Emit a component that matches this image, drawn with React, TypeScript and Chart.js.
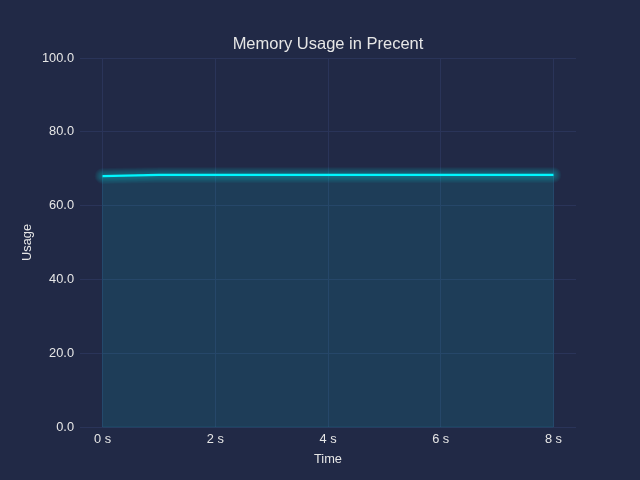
import React, { useEffect, useRef } from "react";
import { Chart, registerables } from "chart.js";

Chart.register(...registerables);

const timeSeconds = [0, 1, 2, 3, 4, 5, 6, 7, 8];
const memoryUsage = [68.0, 68.3, 68.3, 68.3, 68.3, 68.3, 68.3, 68.3, 68.3];
const xTickValues = [0, 2, 4, 6, 8];
const yTickValues = [0, 20, 40, 60, 80, 100];
const titleText = "Memory Usage in Precent";
const xAxisLabel = "Time";
const yAxisLabel = "Usage";

const BG = "#212946";
const GRID = "#2A3459";
const TEXT = "#e6e6e6";
const CYAN = "rgb(8,247,254)";
const FONT = "'Liberation Sans', Arial, sans-serif";

export default function App() {
  const ref = useRef<HTMLCanvasElement | null>(null);

  useEffect(() => {
    if (!ref.current) return;

    const bgPlugin = {
      id: "bg",
      beforeDraw(chart: any) {
        const ctx = chart.ctx;
        ctx.save();
        ctx.fillStyle = BG;
        ctx.fillRect(0, 0, chart.width, chart.height);
        ctx.restore();
      },
    };

    const glowPlugin = {
      id: "glow",
      afterDatasetsDraw(chart: any) {
        const meta = chart.getDatasetMeta(0);
        const pts = meta.data;
        if (!pts || pts.length < 2) return;
        const ctx = chart.ctx;
        const y0 = chart.scales.y.getPixelForValue(0);
        ctx.save();
        // fill polygon edge (as in matplotlib fill_between)
        ctx.beginPath();
        ctx.moveTo(pts[0].x, y0);
        for (let i = 0; i < pts.length; i++) ctx.lineTo(pts[i].x, pts[i].y);
        ctx.lineTo(pts[pts.length - 1].x, y0);
        ctx.closePath();
        ctx.lineWidth = 1;
        ctx.strokeStyle = "rgba(8,247,254,0.1)";
        ctx.stroke();
        // glow
        ctx.lineJoin = "round";
        ctx.lineCap = "round";
        for (let n = 1; n <= 10; n++) {
          ctx.beginPath();
          ctx.moveTo(pts[0].x, pts[0].y);
          for (let i = 1; i < pts.length; i++) ctx.lineTo(pts[i].x, pts[i].y);
          ctx.lineWidth = 2 + 1.4 * n;
          ctx.strokeStyle = "rgba(8,247,254,0.03)";
          ctx.stroke();
        }
        ctx.restore();
      },
    };

    const chart = new Chart(ref.current, {
      type: "line",
      data: {
        datasets: [
          {
            data: timeSeconds.map((t, i) => ({ x: t, y: memoryUsage[i] })),
            borderColor: CYAN,
            borderWidth: 2.2,
            backgroundColor: "rgba(8,247,254,0.1)",
            fill: { value: 0 },
            pointRadius: 0,
            tension: 0,
          },
        ],
      },
      options: {
        animation: false,
        responsive: false,
        layout: { padding: { left: 0, right: 64, top: 0, bottom: 0 } },
        plugins: {
          legend: { display: false },
          tooltip: { enabled: false },
          title: {
            display: true,
            fullSize: false,
            text: titleText,
            color: TEXT,
            font: { family: FONT, size: 16.5, weight: "normal", lineHeight: 1.2 },
            padding: { top: 35, bottom: 3.2 },
          },
        },
        scales: {
          x: {
            type: "linear",
            min: -0.4,
            max: 8.4,
            afterBuildTicks(scale: any) {
              scale.ticks = xTickValues.map((v) => ({ value: v }));
            },
            afterFit(scale: any) {
              scale.height = 53;
            },
            ticks: {
              color: TEXT,
              font: { family: FONT, size: 12.8 },
              padding: 5,
              maxRotation: 0,
              autoSkip: false,
              callback: (v: any) => `${v} s`,
            },
            grid: { color: GRID, drawTicks: false, lineWidth: 1 },
            border: { display: false },
            title: {
              display: true,
              text: xAxisLabel,
              color: TEXT,
              font: { family: FONT, size: 12.8, lineHeight: 1.2 },
              padding: { top: 0, bottom: 13 },
            },
          },
          y: {
            type: "linear",
            min: 0,
            max: 100,
            afterBuildTicks(scale: any) {
              scale.ticks = yTickValues.map((v) => ({ value: v }));
            },
            afterFit(scale: any) {
              scale.width = 80;
            },
            ticks: {
              color: TEXT,
              font: { family: FONT, size: 12.8 },
              padding: 6,
              callback: (v: any) => Number(v).toFixed(1),
            },
            grid: { color: GRID, drawTicks: false, lineWidth: 1 },
            border: { display: false },
            title: {
              display: true,
              text: yAxisLabel,
              color: TEXT,
              font: { family: FONT, size: 12.8, lineHeight: 1.2 },
              padding: { top: 19.3, bottom: 0 },
            },
          },
        },
      },
      plugins: [bgPlugin, glowPlugin],
    } as any);

    return () => chart.destroy();
  }, []);

  return (
    <div style={{ position: "fixed", left: 0, top: 0, width: 640, height: 480, background: BG }}>
      <canvas ref={ref} width={640} height={480} style={{ display: "block", width: 640, height: 480 }} />
    </div>
  );
}
